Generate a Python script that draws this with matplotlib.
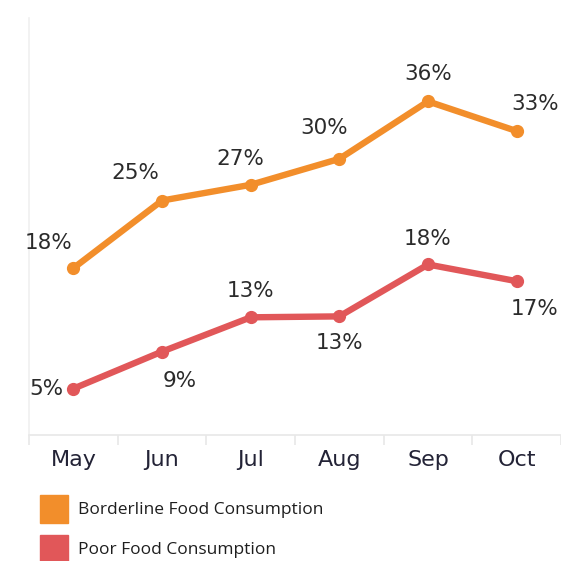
import matplotlib
matplotlib.use("Agg")
import matplotlib.pyplot as plt
from matplotlib.patches import Rectangle

months = ["May", "Jun", "Jul", "Aug", "Sep", "Oct"]
borderline = [18.0, 25.3, 27.0, 29.8, 36.0, 32.8]
poor = [5.0, 9.0, 12.7, 12.8, 18.4, 16.6]
borderline_labels = ["18%", "25%", "27%", "30%", "36%", "33%"]
poor_labels = ["5%", "9%", "13%", "13%", "18%", "17%"]
series_names = ["Borderline Food Consumption", "Poor Food Consumption"]

ORANGE = "#F28E2B"
RED = "#E15759"

W = H = 561
fig = plt.figure(figsize=(5.61, 5.61), dpi=100)
ax = fig.add_axes([29 / W, (W - 435) / H, (W - 29) / W, (435 - 18) / H])

x = list(range(len(months)))
ax.plot(x, borderline, color=ORANGE, lw=4.6, marker="o", ms=8.5, solid_capstyle="round", zorder=3)
ax.plot(x, poor, color=RED, lw=4.6, marker="o", ms=8.5, solid_capstyle="round", zorder=3)

ax.set_xlim(-0.5, 5.5)
ax.set_ylim(0, 45)

b_off = [(-25, 25), (-27, 28), (-10, 26), (-15, 31), (0, 27), (18, 27)]
p_off = [(-27, 0), (18, -29), (0, 26), (0, -27), (0, 25), (18, -28)]
lab_font = dict(fontsize=15.5, color="#2b2b2b", family="DejaVu Sans")
for i in x:
    dx, dy = b_off[i]
    ax.annotate(borderline_labels[i], (i, borderline[i]), xytext=(dx * 0.72, dy * 0.72),
                textcoords="offset points", ha="center", va="center", **lab_font)
    dx, dy = p_off[i]
    ax.annotate(poor_labels[i], (i, poor[i]), xytext=(dx * 0.72, dy * 0.72),
                textcoords="offset points", ha="center", va="center", **lab_font)

for s in ["top", "right"]:
    ax.spines[s].set_visible(False)
ax.spines["left"].set_color("#f0f0f0")
ax.spines["bottom"].set_color("#e8e8e8")
ax.spines["left"].set_linewidth(1.2)
ax.spines["bottom"].set_linewidth(1.2)
ax.set_yticks([])
ax.set_xticks(x)
ax.set_xticklabels(months, fontsize=16, color="#232336", family="DejaVu Sans", fontweight="medium")
ax.tick_params(axis="x", length=0, pad=11)
ax.set_xticks([i - 0.5 for i in range(len(months) + 1)], minor=True)
ax.tick_params(axis="x", which="minor", length=7, color="#e8e8e8", width=1.2)

# legend
for j, (name, col) in enumerate(zip(series_names, [ORANGE, RED])):
    y0 = 495 + j * 40
    fig.patches.append(Rectangle((40 / W, (H - y0 - 28) / H), 28 / W, 28 / H,
                                 transform=fig.transFigure, color=col))
    fig.text(78 / W, (H - y0 - 15) / H, name, fontsize=12.5, color="#1e1e1e",
             family="Open Sans", va="center", ha="left")

fig.savefig("out.png", dpi=100, facecolor="white")
